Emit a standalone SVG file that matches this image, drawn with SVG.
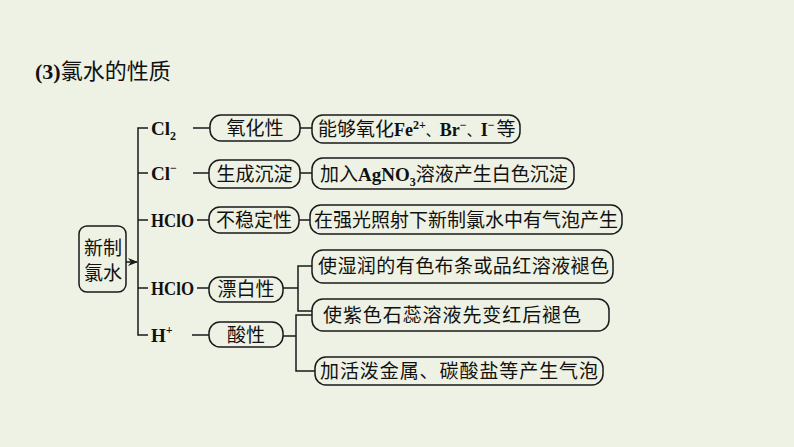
<svg xmlns="http://www.w3.org/2000/svg" width="794" height="447" viewBox="0 0 794 447">
<style>
.bg{fill:#eef2e4}
.box{fill:#eef2e4;stroke:#1a1a1a;stroke-width:1.5}
.ln{fill:none;stroke:#1a1a1a;stroke-width:1.5}
.cn{font-family:"Noto Sans CJK SC","Liberation Serif",serif;font-size:19px;fill:#111}
.lt{font-family:"Liberation Serif","Noto Sans CJK SC",serif;font-weight:bold;font-size:19px;fill:#111}
.sm{font-size:12px}
</style>
<defs>
<marker id="arr" markerWidth="10" markerHeight="8" refX="9" refY="4" orient="auto" markerUnits="userSpaceOnUse">
<path d="M0,0 L10,4 L0,8 L3,4 Z" fill="#1a1a1a"/>
</marker>
</defs>
<rect class="bg" x="0" y="0" width="794" height="447"/>
<g id="title"><text x="35" y="79" class="cn" style="font-size:22px"><tspan class="lt" style="font-size:22px">(3)</tspan>氯水的性质</text></g>
<g id="connectors">
<path class="ln" d="M126,262 L137,262" marker-end="url(#arr)"/>
<path class="ln" d="M148,128 L138,128 L138,335 L148,335"/>
<path class="ln" d="M138,173 L148,173 M138,220 L148,220 M138,288 L148,288"/>
<path class="ln" d="M193,128 L210,128 M193,173 L209,173 M197,220 L209,220 M197,288 L209,288 M192,335 L209,335"/>
<path class="ln" d="M300,128 L312,128 M300,173 L312,173 M299,220 L310,220"/>
<path class="ln" d="M283,288 L298,288 M312,266 L298,266 L298,311 L312,311"/>
<path class="ln" d="M283,336 L296,336 M312,315 L296,315 L296,371 L315,371"/>
</g>
<g id="n-root"><rect class="box" x="79" y="226" width="47" height="66" rx="8"/>
<text x="103" y="255" class="cn" style="font-size:19px" text-anchor="middle">新制</text>
<text x="103" y="280" class="cn" style="font-size:19px" text-anchor="middle">氯水</text></g>
<g id="l-cl2"><text x="151" y="135" class="lt">Cl<tspan class="sm" dy="5">2</tspan></text></g>
<g id="l-clm"><text x="151" y="180" class="lt">Cl<tspan class="sm" dy="-8">−</tspan></text></g>
<g id="l-hclo1"><text x="151" y="227" class="lt" textLength="43" lengthAdjust="spacingAndGlyphs">HClO</text></g>
<g id="l-hclo2"><text x="151" y="295" class="lt" textLength="43" lengthAdjust="spacingAndGlyphs">HClO</text></g>
<g id="l-h"><text x="151" y="342" class="lt">H<tspan class="sm" dy="-8">+</tspan></text></g>
<g id="n-ox"><rect class="box" x="210" y="115" width="90" height="26" rx="11"/><text x="255" y="135" class="cn" text-anchor="middle">氧化性</text></g>
<g id="n-ppt"><rect class="box" x="209" y="160" width="91" height="28" rx="11"/><text x="254.5" y="181" class="cn" text-anchor="middle">生成沉淀</text></g>
<g id="n-uns"><rect class="box" x="209" y="207" width="90" height="26" rx="11"/><text x="254" y="227" class="cn" text-anchor="middle">不稳定性</text></g>
<g id="n-bl"><rect class="box" x="209" y="277" width="74" height="25" rx="11"/><text x="246" y="296" class="cn" text-anchor="middle">漂白性</text></g>
<g id="n-ac"><rect class="box" x="209" y="322" width="74" height="25" rx="11"/><text x="246" y="342" class="cn" text-anchor="middle">酸性</text></g>
<g id="r1"><rect class="box" x="312" y="115" width="208" height="28" rx="11"/>
<text x="318" y="136" class="cn">能够氧化<tspan class="lt" style="font-size:18px">Fe</tspan><tspan class="lt sm" dy="-7">2+</tspan><tspan dy="7" style="font-size:14px">、</tspan><tspan class="lt" style="font-size:18px">Br</tspan><tspan class="lt sm" dy="-7">−</tspan><tspan dy="7" style="font-size:14px">、</tspan><tspan class="lt" style="font-size:18px">I</tspan><tspan class="lt sm" dy="-7">−</tspan><tspan dy="7" dx="2">等</tspan></text></g>
<g id="r2"><rect class="box" x="312" y="158" width="262" height="31" rx="11"/>
<text x="320" y="181" class="cn">加入<tspan class="lt">AgNO</tspan><tspan class="lt sm" dy="5">3</tspan><tspan dy="-5">溶液产生白色沉淀</tspan></text></g>
<g id="r3"><rect class="box" x="310" y="205" width="312" height="29" rx="11"/>
<text x="314" y="227" class="cn" textLength="304">在强光照射下新制氯水中有气泡产生</text></g>
<g id="r4"><rect class="box" x="312" y="250" width="301" height="33" rx="11"/>
<text x="318" y="273" class="cn" textLength="291">使湿润的有色布条或品红溶液褪色</text></g>
<g id="r5"><rect class="box" x="312" y="299" width="297" height="32" rx="11"/>
<text x="323" y="322" class="cn" textLength="258">使紫色石蕊溶液先变红后褪色</text></g>
<g id="r6"><rect class="box" x="315" y="357" width="288" height="28" rx="11"/>
<text x="320" y="378" class="cn" textLength="278">加活泼金属、碳酸盐等产生气泡</text></g>
</svg>
